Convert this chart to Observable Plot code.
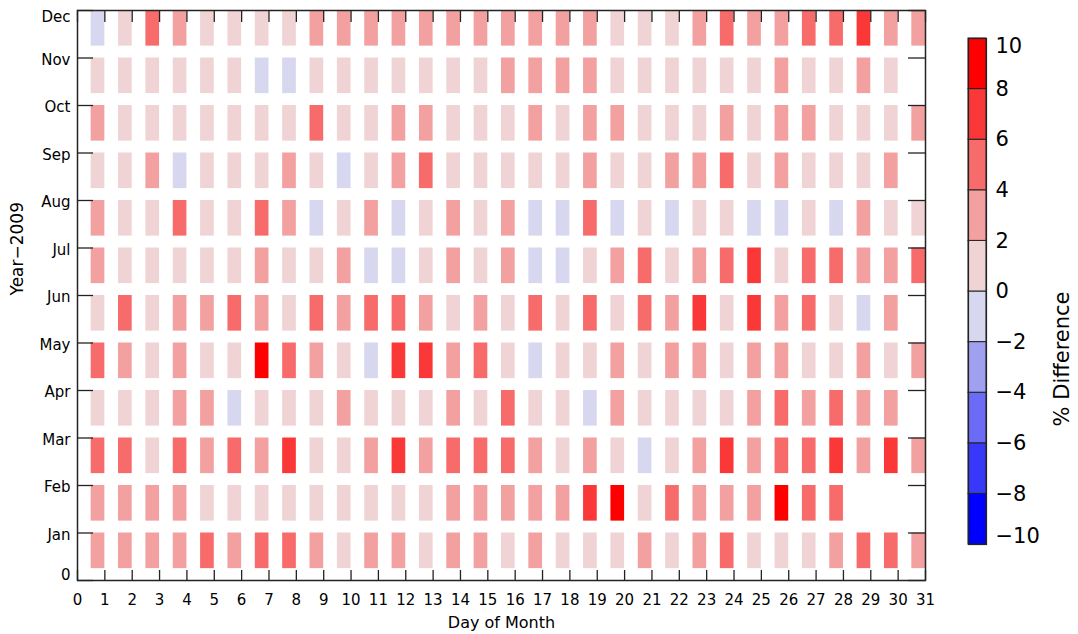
<!DOCTYPE html>
<html>
<head>
<meta charset="utf-8">
<script src="https://cdn.jsdelivr.net/npm/d3@7"></script>
<script src="https://cdn.jsdelivr.net/npm/@observablehq/plot@0.6"></script>
<style>
  html, body { margin: 0; padding: 0; background: #fff; }
  #wrap { position: relative; width: 1078px; height: 634px; overflow: hidden; background: #fff; }
  #main { position: absolute; left: 0; top: 0; }
  #bar { position: absolute; left: 940px; top: 0; }
</style>
</head>
<body>
<div id="wrap"><div id="main"></div><div id="bar"></div></div>
<script>
// Estimated % difference per day (bin mid-values)
const jan = [3,3,3,3,5,3,5,5,3,1, 3,3,1,3,3,1,3,1,1,1, 3,1,3,5,1,1,1,3,5,5,3];
const feb = [3,3,3,3,1,1,1,1,1,1, 1,1,1,3,3,3,3,3,7,9, 1,5,3,3,3,9,5,5];
const mar = [5,5,1,5,3,5,3,7,1,1, 3,7,3,5,5,5,3,1,3,1, -1,1,3,7,3,5,5,7,3,7,3];
const apr = [1,1,1,3,3,-1,1,1,1,3, 1,1,1,3,1,5,1,1,-1,3, 1,1,1,1,3,5,3,5,3,3];
const may = [5,3,1,3,1,1,9,5,3,1, -1,7,7,3,5,1,-1,1,1,3, 1,3,3,1,3,3,1,1,3,1,3];
const jun = [1,5,1,3,3,5,3,1,5,3, 5,5,3,1,3,1,5,1,5,1, 5,3,7,1,7,3,5,1,-1,3];
const jul = [3,1,1,1,1,1,3,1,1,3, -1,-1,1,3,1,3,-1,-1,1,3, 5,1,3,5,7,1,5,5,3,3,5];
const aug = [3,1,1,5,1,1,5,3,-1,1, 3,-1,1,3,1,3,-1,-1,5,-1, 1,-1,1,1,-1,-1,1,-1,3,1,1];
const sep = [1,1,3,-1,1,1,1,3,1,-1, 1,3,5,1,1,1,1,1,3,1, 1,3,3,5,1,3,1,1,1,3];
const oct = [3,1,1,1,1,1,1,1,5,1, 1,3,3,1,1,1,3,1,3,3, 1,1,1,3,1,3,3,1,1,1,3];
const nov = [1,1,1,1,1,1,-1,-1,1,1, 1,1,1,1,1,3,3,3,3,1, 1,1,1,1,1,3,1,1,3,1];
const dec = [-1,1,5,3,1,1,1,1,3,3, 3,3,3,3,3,3,3,3,3,1, 1,1,3,5,3,3,5,5,7,3,3];

const monthSeries = [jan, feb, mar, apr, may, jun, jul, aug, sep, oct, nov, dec];
const monthLabels = ["0","Jan","Feb","Mar","Apr","May","Jun","Jul","Aug","Sep","Oct","Nov","Dec"];
const dayTicks = d3.range(0, 32);
const monthTicks = d3.range(0, 13);
const barTicks = [-10,-8,-6,-4,-2,0,2,4,6,8,10];
const colorThresholds = [-8,-6,-4,-2,0,2,4,6,8];
const colorRange = ["#0000ff","#3838fa","#6b6bf5","#a0a0f0","#d7d7f0","#f0d4d5","#f3a0a1","#f76b6b","#fb3838","#ff0000"];

const cells = [];
monthSeries.forEach((vals, mi) => {
  vals.forEach((v, di) => cells.push({month: mi + 1, day: di + 1, value: v}));
});

const legendBins = barTicks.slice(0, -1).map((lo, i) => ({lo, hi: barTicks[i + 1], mid: (lo + barTicks[i + 1]) / 2}));

const color = {type: "threshold", domain: colorThresholds, range: colorRange};
const font = "DejaVu Sans, sans-serif";
const fmtBar = d => d < 0 ? "\u2212" + Math.abs(d) : String(d);

const main = Plot.plot({
  width: 940, height: 634,
  marginLeft: 77, marginRight: 15, marginTop: 10, marginBottom: 54,
  style: {fontFamily: font, fontSize: "15px", color: "#000", background: "#fff", overflow: "visible"},
  x: {domain: [0, 31]},
  y: {domain: [0, 12]},
  color,
  marks: [
    Plot.rect(cells, {x1: d => d.day - 0.5, x2: "day", y1: d => d.month - 0.75, y2: "month", fill: "value"}),
    Plot.ruleY(monthTicks, {y: d => d, insetRight: 832, stroke: "#222", strokeWidth: 1.3}),
    Plot.ruleY(monthTicks, {y: d => d, insetLeft: 831, stroke: "#222", strokeWidth: 1.3}),
    Plot.ruleX(dayTicks, {x: d => d, insetTop: 560, stroke: "#222", strokeWidth: 1.3}),
    Plot.ruleX(dayTicks, {x: d => d, insetBottom: 558, stroke: "#222", strokeWidth: 1.3}),
    Plot.frame({stroke: "#222", strokeWidth: 1.5}),
    Plot.axisX({ticks: dayTicks, tickSize: 0, tickPadding: 14, tickFormat: d => String(d), label: null, fontSize: 15}),
    Plot.axisY({ticks: d3.range(1, 12), tickSize: 0, tickPadding: 7, tickFormat: d => monthLabels[d], label: null, dy: 2, fontSize: 15}),
    Plot.axisY({ticks: [12], tickSize: 0, tickPadding: 7, tickFormat: d => monthLabels[d], label: null, dy: 7, fontSize: 15}),
    Plot.axisY({ticks: [0], tickSize: 0, tickPadding: 7, tickFormat: d => monthLabels[d], label: null, dy: -5, fontSize: 15}),
    Plot.text(["Day of Month"], {text: d => d, frameAnchor: "bottom", dy: 47, fontSize: 16}),
    Plot.text(["Year\u22122009"], {text: d => d, frameAnchor: "left", dx: -60, rotate: -90, fontSize: 17})
  ]
});
document.getElementById("main").appendChild(main);

const bar = Plot.plot({
  width: 138, height: 634,
  marginLeft: 28, marginRight: 92, marginTop: 38, marginBottom: 90,
  style: {fontFamily: font, fontSize: "21px", color: "#000", background: "#fff", overflow: "visible"},
  x: {domain: [0, 1], axis: null},
  y: {domain: [-10, 10]},
  color,
  marks: [
    Plot.rect(legendBins, {x1: 0, x2: 1, y1: "lo", y2: "hi", fill: "mid", stroke: "#222", strokeWidth: 1}),
    Plot.frame({stroke: "#222", strokeWidth: 1.2}),
    Plot.axisY({anchor: "right", ticks: barTicks.slice(1, -1), tickSize: 0, tickPadding: 9, label: null, fontSize: 21, tickFormat: fmtBar}),
    Plot.axisY({anchor: "right", ticks: [10], tickSize: 0, tickPadding: 9, label: null, fontSize: 21, dy: 8, tickFormat: fmtBar}),
    Plot.axisY({anchor: "right", ticks: [-10], tickSize: 0, tickPadding: 9, label: null, fontSize: 21, dy: -8, tickFormat: fmtBar}),
    Plot.text(["% Difference"], {text: d => d, frameAnchor: "right", dx: 76, rotate: -90, fontSize: 21})
  ]
});
document.getElementById("bar").appendChild(bar);
</script>
</body>
</html>
